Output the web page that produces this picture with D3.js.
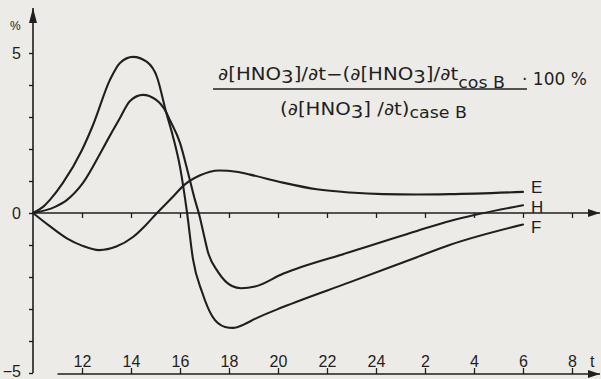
<!DOCTYPE html>
<html><head><meta charset="utf-8">
<script src="https://cdn.jsdelivr.net/npm/d3@7"></script>
<style>
html,body{margin:0;padding:0;background:#ecebe7;}
svg{display:block;font-family:"Liberation Sans",Arial,sans-serif;}
</style>
</head><body>
<svg id="c" width="601" height="379"></svg>
<script>
// ---- data ----
const tickHours = [12,14,16,18,20,22,24,26,28,30,32];
const tickLabels = ["12","14","16","18","20","22","24","2","4","6","8"];
const yTicks = [-5,-4,-3,-2,-1,0,1,2,3,4,5];
const yTickLabels = {"-5":"\u22125","0":"0","5":"5"};
const seriesNames = ["E","H","F"];

const timeE = [10,10.7,11.4,12.0,12.7,13.4,14.08,14.6,15.06,15.7,16.12,16.8,17.6,18.3,18.86,20.2,21.58,22.94,24.3,25.66,27.0,30.0];
const valE  = [0,-0.42,-0.8,-1.02,-1.16,-1.05,-0.75,-0.38,0,0.5,0.84,1.17,1.33,1.29,1.2,0.95,0.74,0.64,0.59,0.58,0.59,0.66];

const timeH = [10,10.9,11.39,12.04,12.82,13.2,13.55,13.96,14.49,15.0,15.43,15.59,16.0,16.33,16.61,16.8,16.95,17.14,17.55,18.12,18.5,19.06,20.2,22.94,25.67,27.02,30.0];
const valH  = [0,0.19,0.41,0.94,1.97,2.5,2.97,3.5,3.69,3.55,3.16,2.9,2.19,1.25,0.41,-0.1,-0.6,-1.22,-1.84,-2.28,-2.35,-2.3,-1.9,-1.22,-0.56,-0.25,0.24];

const timeF = [10,10.41,10.69,11.22,12.0,12.45,13.14,13.55,14.08,14.65,15.06,15.43,15.71,16.0,16.29,16.53,16.9,17.31,17.84,18.16,18.65,19.06,20.2,22.94,25.67,27.0,30.0];
const valF  = [0,0.19,0.41,0.94,1.97,2.75,4.16,4.69,4.88,4.72,4.25,3.16,2.4,1.44,0,-1.44,-2.47,-3.22,-3.56,-3.59,-3.47,-3.31,-2.94,-2.16,-1.38,-1.0,-0.36];

// ---- chart ----
const svg = d3.select("#c");
const ink = "#1f1f1f";
const x = d3.scaleLinear().domain([10,33]).range([33,596.5]);
const y = d3.scaleLinear().domain([-5,5]).range([373,53]);

const defs = svg.append("defs");
defs.append("marker").attr("id","arr").attr("viewBox","0 0 12 8").attr("refX",12).attr("refY",4)
  .attr("markerWidth",12).attr("markerHeight",8).attr("markerUnits","userSpaceOnUse").attr("orient","auto")
  .append("path").attr("d","M0,0 L12,4 L0,8 Z").attr("fill",ink);
defs.append("marker").attr("id","arrUp").attr("viewBox","0 0 8 15").attr("refX",4).attr("refY",0)
  .attr("markerWidth",8).attr("markerHeight",15).attr("markerUnits","userSpaceOnUse").attr("orient","0")
  .append("path").attr("d","M4,0 L8,15 L0,15 Z").attr("fill",ink);

// y axis
const yAxis = d3.axisLeft(y).tickValues(yTicks).tickSize(4).tickPadding(8)
  .tickFormat(d => yTickLabels[String(d)] || "");
const gy = svg.append("g").attr("transform",`translate(${x(10)},0)`).call(yAxis);
gy.select(".domain").remove();
gy.selectAll(".tick line").attr("stroke",ink).attr("stroke-width",1.4);
gy.selectAll(".tick text").attr("fill",ink).attr("font-size",16).attr("dy",d => d === -5 ? "0.22em" : "0.36em");
svg.append("line").attr("x1",x(10)).attr("x2",x(10)).attr("y1",y(-5)).attr("y2",8)
  .attr("stroke",ink).attr("stroke-width",1.6).attr("marker-end","url(#arrUp)");
svg.append("text").attr("x",10).attr("y",30).attr("font-size",12).attr("fill",ink).text("%");

// zero line with ticks
const zeroAxis = d3.axisBottom(x).tickValues(tickHours).tickSize(5).tickFormat("");
const gz = svg.append("g").attr("transform",`translate(0,${y(0)})`).call(zeroAxis);
gz.select(".domain").remove();
gz.selectAll(".tick line").attr("stroke",ink).attr("stroke-width",1.3);
svg.append("line").attr("x1",x(10)).attr("x2",600).attr("y1",y(0)).attr("y2",y(0))
  .attr("stroke",ink).attr("stroke-width",1.5).attr("marker-end","url(#arr)");

// bottom time axis
const bottomY = 374;
const tAxis = d3.axisTop(x).tickValues(tickHours).tickSize(6).tickPadding(1)
  .tickFormat((d,i) => tickLabels[i]);
const gt = svg.append("g").attr("transform",`translate(0,${bottomY})`).call(tAxis);
gt.select(".domain").remove();
gt.selectAll(".tick line").attr("stroke",ink).attr("stroke-width",1.3);
gt.selectAll(".tick text").attr("fill",ink).attr("font-size",16).attr("dy","0");
svg.append("line").attr("x1",x(11)).attr("x2",600).attr("y1",bottomY).attr("y2",bottomY)
  .attr("stroke",ink).attr("stroke-width",1.6).attr("marker-end","url(#arr)");
svg.append("text").attr("x",590).attr("y",367).attr("font-size",16).attr("fill",ink).text("t");

// curves
const line = d3.line().x(d=>x(d[0])).y(d=>y(d[1])).curve(d3.curveMonotoneX);
const series = [
  {name:"E", pts: d3.zip(timeE,valE)},
  {name:"H", pts: d3.zip(timeH,valH)},
  {name:"F", pts: d3.zip(timeF,valF)}
];
svg.selectAll("path.curve").data(series).join("path").attr("class","curve")
  .attr("d",d=>line(d.pts)).attr("fill","none").attr("stroke",ink).attr("stroke-width",2.1)
  .attr("stroke-linejoin","round").attr("stroke-linecap","round");

const labelDy = {E:1, H:8, F:8};
svg.selectAll("text.sname").data(series).join("text").attr("class","sname")
  .attr("x",d=>x(d.pts[d.pts.length-1][0])+8)
  .attr("y",d=>y(d.pts[d.pts.length-1][1])+labelDy[d.name])
  .attr("font-size",17).attr("fill",ink).text(d=>d.name);

// formula
const ff = "DejaVu Sans, sans-serif";
const fs = 17;
const num = svg.append("text").attr("x",218).attr("y",80).attr("font-size",fs).attr("font-family",ff)
  .attr("fill",ink).attr("textLength",287).attr("lengthAdjust","spacingAndGlyphs");
num.append("tspan").text("\u2202[HNO");
num.append("tspan").attr("dy",3).text("3");
num.append("tspan").attr("dy",-3).text("]/\u2202t\u2212(\u2202[HNO");
num.append("tspan").attr("dy",3).text("3");
num.append("tspan").attr("dy",-3).text("]/\u2202t");
num.append("tspan").attr("dy",8).attr("font-size",15).text("cos B");
svg.append("line").attr("x1",213).attr("x2",527).attr("y1",89).attr("y2",89).attr("stroke",ink).attr("stroke-width",1.4);
svg.append("text").attr("x",522).attr("y",85).attr("font-size",fs).attr("font-family",ff).attr("fill",ink)
  .attr("textLength",65).attr("lengthAdjust","spacing").text("\u00b7 100 %");
const den = svg.append("text").attr("x",280).attr("y",115).attr("font-size",fs).attr("font-family",ff)
  .attr("fill",ink).attr("textLength",187).attr("lengthAdjust","spacingAndGlyphs");
den.append("tspan").text("(\u2202[HNO");
den.append("tspan").attr("dy",3).text("3");
den.append("tspan").attr("dy",-3).text("] /\u2202t)");
den.append("tspan").attr("dy",3).attr("font-size",15).text("case B");
</script>
</body></html>
